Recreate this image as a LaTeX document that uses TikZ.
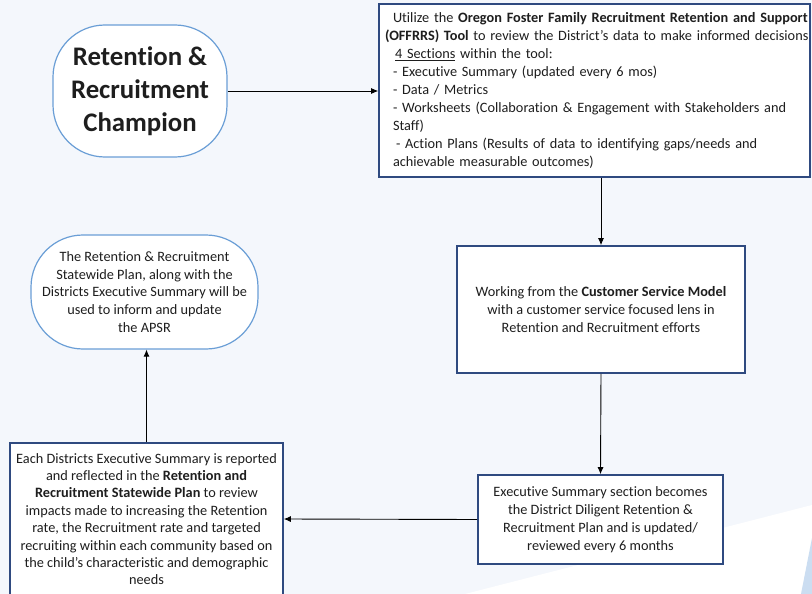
\documentclass[tikz,border=0pt]{standalone}
\usepackage{fontspec}
\setmainfont[Ligatures={TeX,NoCommon}]{Carlito}
\usepackage{tikz}
\usetikzlibrary{arrows.meta,calc}
\definecolor{boxblue}{HTML}{2F4A80}
\definecolor{roundblue}{HTML}{6A9ED6}
\definecolor{pagebg}{HTML}{F4F7FC}
\definecolor{textgray}{HTML}{1E1E1E}

\begin{document}
\begin{tikzpicture}[x=1pt,y=-1pt]
\tikzstyle{box} = [draw=boxblue, line width=1.6pt, fill=white, align=center, text=textgray, inner sep=0pt, font=\fontsize{14.3}{17.9}\selectfont]
\tikzstyle{bubble} = [draw=roundblue, line width=1.2pt, fill=white, rounded corners=52pt, align=center, text=textgray, inner sep=0pt, font=\fontsize{14.3}{17.9}\selectfont]
\tikzstyle{link} = [-{Latex[length=7pt,width=6pt]}, line width=0.9pt, black]
\useasboundingbox (0,0) rectangle (812,594);
\fill[pagebg] (0,0) rectangle (812,594);
\clip (0,0) rectangle (812,594);
\fill[white] (812,505) -- (812,594) -- (465,594) -- cycle;
\fill[roundblue!35] (812,538) -- (812,594) -- (801,594) -- cycle;
\coordinate (C1) at (140,91);
\coordinate (C2) at (594.5,90.5);
\coordinate (C3) at (601,309.5);
\coordinate (C4) at (600.5,519.5);
\coordinate (C5) at (146.5,519);
\coordinate (C6) at (144.5,292);
\node[bubble, minimum width=174pt, minimum height=132pt, font=\fontsize{26.8}{33}\selectfont\bfseries] (champion) at (C1) {Retention \&\\Recruitment\\Champion};
\node[box, minimum width=431pt, minimum height=173pt, text width=403pt, inner xsep=14pt, align=left] (offrrs) at (C2) {\mbox{Utilize the \textbf{Oregon Foster Family Recruitment Retention and Support}}\\
\mbox{\hspace*{-8pt}\textbf{(OFFRRS) Tool} to review the District’s data to make informed decisions}\\
\hspace*{2pt}\underline{4 Sections} within the tool:\\
- Executive Summary (updated every 6 mos)\\
- Data / Metrics\\
\mbox{- Worksheets (Collaboration \& Engagement with Stakeholders and}\\
Staff)\\
\mbox{\hspace*{3pt}- Action Plans (Results of data to identifying gaps/needs and}\\
achievable measurable outcomes)};
\node[box, minimum width=288pt, minimum height=127pt] (service) at (C3) {Working from the \textbf{Customer Service Model}\\with a customer service focused lens in\\Retention and Recruitment efforts};
\node[box, minimum width=245pt, minimum height=89pt] (summary) at (C4) {Executive Summary section becomes\\the District Diligent Retention \&\\Recruitment Plan and is updated/\\reviewed every 6 months};
\node[box, minimum width=273pt, minimum height=152pt, font=\fontsize{14.3}{17.4}\selectfont] (statewide) at (C5) {Each Districts Executive Summary is reported\\and reflected in the \textbf{Retention and}\\\textbf{Recruitment Statewide Plan} to review\\impacts made to increasing the Retention\\rate, the Recruitment rate and targeted\\recruiting within each community based on\\the child’s characteristic and demographic\\needs};
\node[bubble, minimum width=227pt, minimum height=114pt] (apsr) at (C6) {The Retention \& Recruitment\\Statewide Plan, along with the\\Districts Executive Summary will be\\used to inform and update\\the APSR};
\draw[link] (champion.east) -- (champion.east -| offrrs.west);
\draw[link] (service.north |- offrrs.south) -- (service.north);
\draw[link] (service.south) -- (summary.north);
\draw[link] (summary.west) -- (statewide.east);
\draw[link] (statewide.north) -- (statewide.north |- apsr.south);
\end{tikzpicture}
\end{document}
